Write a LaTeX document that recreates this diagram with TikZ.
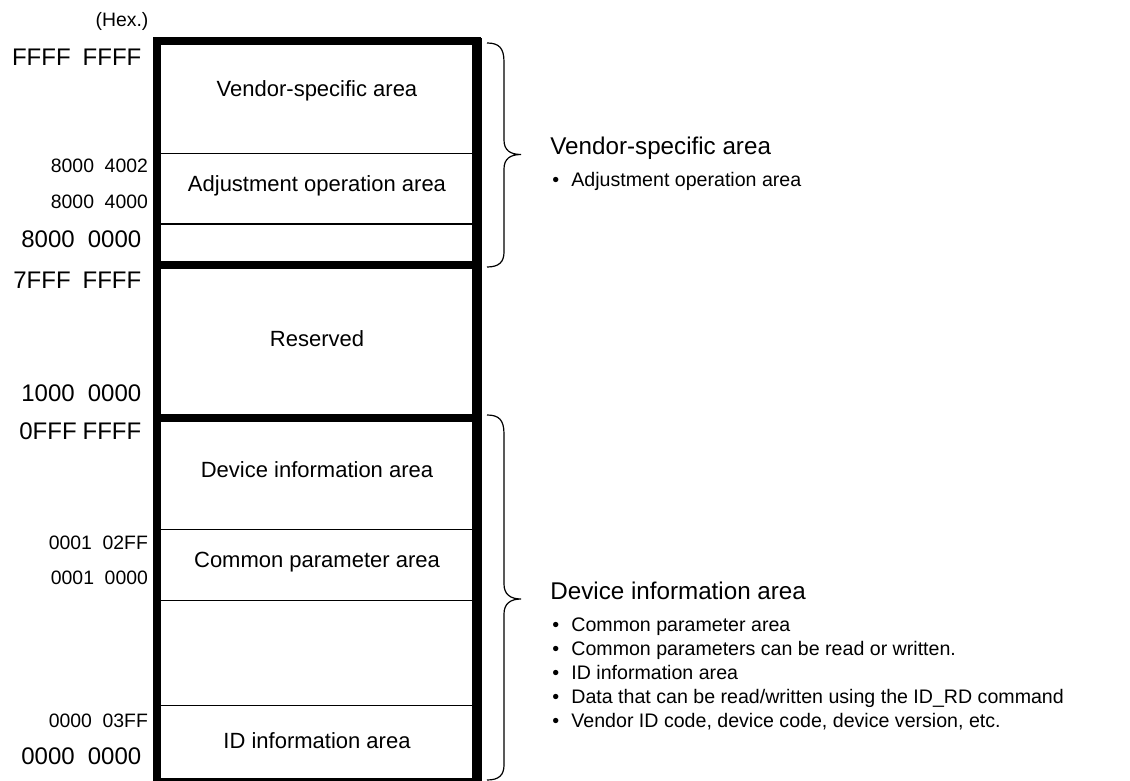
\documentclass[tikz,border=0pt]{standalone}
\usepackage{fontspec}
\setmainfont{Liberation Sans}
\begin{document}
\begin{tikzpicture}[x=0.5pt,y=-0.5pt,
  big/.style={font=\fontsize{12}{14}\selectfont, anchor=east, inner sep=0pt},
  small/.style={font=\fontsize{9.7}{12}\selectfont, anchor=east, inner sep=0pt},
  area/.style={font=\fontsize{11}{13}\selectfont, inner sep=0pt},
  head/.style={font=\fontsize{12.1}{14}\selectfont, anchor=base west, inner sep=0pt},
  bul/.style={font=\fontsize{9.8}{12}\selectfont, anchor=base west, inner sep=0pt},
  thinline/.style={line width=0.75pt},
  thickline/.style={line width=4pt},
  bracepath/.style={line width=0.6pt}]
\useasboundingbox (0,0) rectangle (1130,781);

% outer frame
\draw[thickline] (157,41.5) rectangle (477,781.5);
\draw[line width=5pt] (477,38) -- (477,788);
% thick separators
\draw[thickline] (157,264.5) -- (477,264.5);
\draw[thickline] (157,417.5) -- (477,417.5);
% thin separators
\draw[thinline] (157,153.3) -- (477,153.3);
\draw[thinline] (157,224) -- (477,224);
\draw[thinline] (157,529.3) -- (477,529.3);
\draw[thinline] (157,600.7) -- (477,600.7);
\draw[thinline] (157,705.7) -- (477,705.7);

% area labels
\node[area] (vsa) at (317,91) {Vendor-specific area};
\node[area] (adj) at (317,186) {Adjustment operation area};
\node[area] (res) at (317,339) {Reserved};
\node[area] (dia) at (317,470) {Device information area};
\node[area] (cpa) at (317,562) {Common parameter area};
\node[area] (ida) at (317,741) {ID information area};

% address labels
\node[small, anchor=center] (hex) at (122,21.5) {(Hex.)};
\node[big] (a1) at (141.7,57) {FFFF\hspace{0.5em}FFFF};
\node[small] (a2) at (148.3,166) {8000\hspace{0.55em}4002};
\node[small] (a3) at (148.3,201.5) {8000\hspace{0.55em}4000};
\node[big] (a4) at (141.7,239) {8000\hspace{0.55em}0000};
\node[big] (a5) at (141.7,280.5) {7FFF\hspace{0.5em}FFFF};
\node[big] (a6) at (141.7,393) {1000\hspace{0.55em}0000};
\node[big] (a7) at (141.7,431.5) {0FFF\hspace{0.25em}FFFF};
\node[small] (a8) at (148.3,543) {0001\hspace{0.55em}02FF};
\node[small] (a9) at (148.3,578) {0001\hspace{0.55em}0000};
\node[small] (a10) at (148.3,721) {0000\hspace{0.55em}03FF};
\node[big] (a11) at (141.7,756) {0000\hspace{0.55em}0000};

% braces
\coordinate (b1top) at (487,43);
\coordinate (b1tip) at (521,154.5);
\coordinate (b1bot) at (487,267);
\draw[bracepath] (b1top) .. controls (499,43) and (504,48) .. (504,62)
  -- (504,140) .. controls (504,150) and (510,154.5) .. (b1tip)
  .. controls (510,154.5) and (504,159) .. (504,169)
  -- (504,252) .. controls (504,262) and (499,267) .. (b1bot);
\coordinate (b2top) at (487,415);
\coordinate (b2tip) at (521,599);
\coordinate (b2bot) at (487,780);
\draw[bracepath] (b2top) .. controls (499,415) and (504,420) .. (504,434)
  -- (504,584) .. controls (504,594) and (510,599) .. (b2tip)
  .. controls (510,599) and (504,604) .. (504,614)
  -- (504,765) .. controls (504,775) and (499,780) .. (b2bot);

% descriptions
\node[head] (h1) at (550,155) {Vendor-specific area};
\node[bul] (h1a) at (552,186) {\textbullet\hspace{0.62em}Adjustment operation area};
\node[head] (h2) at (550,599.3) {Device information area};
\node[bul] (h2a) at (552,631) {\textbullet\hspace{0.62em}Common parameter area};
\node[bul] (h2b) at (552,655) {\textbullet\hspace{0.62em}Common parameters can be read or written.};
\node[bul] (h2c) at (552,679) {\textbullet\hspace{0.62em}ID information area};
\node[bul] (h2d) at (552,703) {\textbullet\hspace{0.62em}Data that can be read/written using the ID\_RD command};
\node[bul] (h2e) at (552,727.5) {\textbullet\hspace{0.62em}Vendor ID code, device code, device version, etc.};
\end{tikzpicture}
\end{document}
